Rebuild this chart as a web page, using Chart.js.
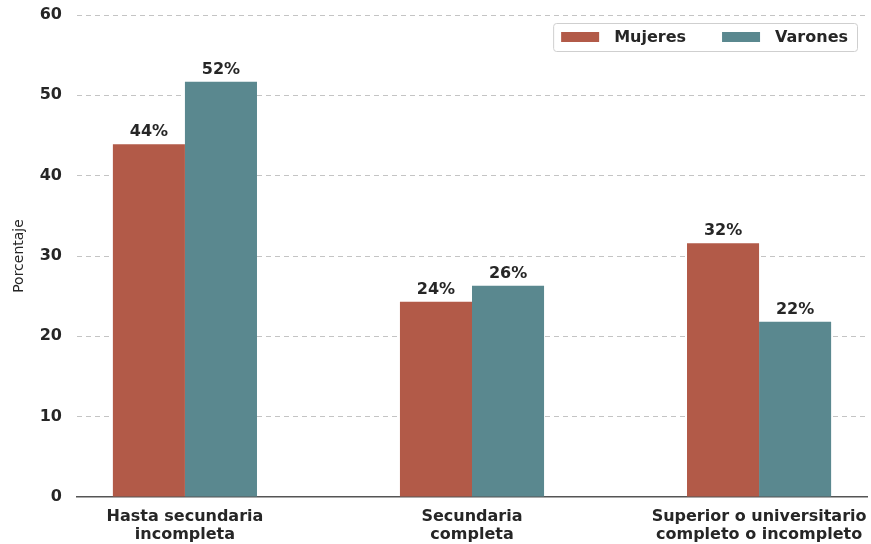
<!DOCTYPE html>
<html>
<head>
    <title>Nivel educativo por sexo</title>
    <script src="https://cdn.jsdelivr.net/npm/chart.js"></script>
    <style>
        html, body { margin: 0; padding: 0; background: #fff; }
    </style>
</head>
<body>
    <canvas id="eduChart" width="871" height="544"></canvas>
    <script>
        // data
        const categories = [
            ['Hasta secundaria', 'incompleta'],
            ['Secundaria', 'completa'],
            ['Superior o universitario', 'completo o incompleto']
        ];
        const mujeres = [43.9, 24.3, 31.6];
        const varones = [51.7, 26.3, 21.8];
        const yTicks = [0, 10, 20, 30, 40, 50, 60];

        const FONT = "'DejaVu Sans', sans-serif";
        const TXT = '#262626';

        // value labels above each bar
        const barLabels = {
            id: 'barLabels',
            afterDatasetsDraw(chart) {
                const ctx = chart.ctx;
                ctx.save();
                ctx.font = 'bold 16px ' + FONT;
                ctx.fillStyle = TXT;
                ctx.textAlign = 'center';
                ctx.textBaseline = 'alphabetic';
                chart.data.datasets.forEach((ds, i) => {
                    chart.getDatasetMeta(i).data.forEach((bar, j) => {
                        ctx.fillText(Math.round(ds.data[j].y) + '%', bar.x, bar.y - 8);
                    });
                });
                ctx.restore();
            }
        };

        // boxed legend inside the plot, top right
        const boxLegend = {
            id: 'boxLegend',
            afterDraw(chart) {
                const ctx = chart.ctx;
                const area = chart.chartArea;
                ctx.save();
                ctx.font = 'bold 16px ' + FONT;
                const sw = 38, sh = 10, padL = 8, padR = 9, gapTxt = 15, gapItem = 36;
                const items = chart.data.datasets.map(ds => ({
                    label: ds.label, color: ds.backgroundColor, w: ctx.measureText(ds.label).width
                }));
                let total = padL + padR;
                items.forEach((it, k) => {
                    total += sw + gapTxt + it.w + (k < items.length - 1 ? gapItem : 0);
                });
                const h = 28;
                const x0 = area.right - 10 - total;
                const y0 = area.top + 8;
                ctx.fillStyle = 'rgba(255,255,255,0.85)';
                ctx.strokeStyle = '#cfcfcf';
                ctx.lineWidth = 1;
                ctx.beginPath();
                ctx.roundRect(x0 + 0.5, y0 + 0.5, total, h, 3);
                ctx.fill();
                ctx.stroke();
                let x = x0 + padL;
                const cy = y0 + h / 2;
                ctx.textBaseline = 'middle';
                ctx.textAlign = 'left';
                items.forEach(it => {
                    ctx.fillStyle = it.color;
                    ctx.fillRect(x, cy - sh / 2, sw, sh);
                    x += sw + gapTxt;
                    ctx.fillStyle = TXT;
                    ctx.fillText(it.label, x, cy + 1);
                    x += it.w + gapItem;
                });
                ctx.restore();
            }
        };

        const ctx = document.getElementById('eduChart').getContext('2d');
        const chart = new Chart(ctx, {
            type: 'bar',
            data: {
                datasets: [{
                    label: 'Mujeres',
                    data: mujeres.map((v, i) => ({ x: i, y: v })),
                    backgroundColor: '#b25a48'
                }, {
                    label: 'Varones',
                    data: varones.map((v, i) => ({ x: i, y: v })),
                    backgroundColor: '#5a888f'
                }]
            },
            options: {
                responsive: false,
                animation: false,
                devicePixelRatio: 1,
                categoryPercentage: 0.502,
                barPercentage: 1,
                layout: { padding: { top: 15, right: 4, left: 0, bottom: 0 } },
                plugins: {
                    legend: { display: false },
                    tooltip: { enabled: false }
                },
                scales: {
                    x: {
                        type: 'linear',
                        offset: false,
                        min: -0.376,
                        max: 2.376,
                        afterBuildTicks: s => { s.ticks = categories.map((c, i) => ({ value: i })); },
                        afterFit: s => { s.height = 47; s.paddingLeft = 0; s.paddingRight = 0; },
                        grid: { display: false, drawTicks: false, offset: false },
                        border: { display: true, color: '#555', width: 1.5 },
                        ticks: {
                            padding: 11,
                            color: TXT,
                            maxRotation: 0,
                            font: { family: FONT, size: 16, weight: 'bold', lineHeight: 1.12 },
                            callback: v => categories[v]
                        }
                    },
                    y: {
                        min: 0,
                        max: 60,
                        afterBuildTicks: s => { s.ticks = yTicks.map(v => ({ value: v })); },
                        afterFit: s => { s.width = 77; s.paddingTop = 0; s.paddingBottom = 0; },
                        grid: {
                            drawTicks: false,
                            lineWidth: 1,
                            color: c => (c.tick && c.tick.value === 0) ? 'rgba(0,0,0,0)' : '#c4c4c4'
                        },
                        border: { display: false, dash: [5, 4] },
                        ticks: {
                            padding: 15,
                            color: TXT,
                            font: { family: FONT, size: 16, weight: 'bold' }
                        },
                        title: {
                            display: true,
                            text: 'Porcentaje',
                            color: TXT,
                            padding: { top: 11, bottom: 0 },
                            font: { family: FONT, size: 14 }
                        }
                    }
                }
            },
            plugins: [barLabels, boxLegend]
        });
    </script>
</body>
</html>
